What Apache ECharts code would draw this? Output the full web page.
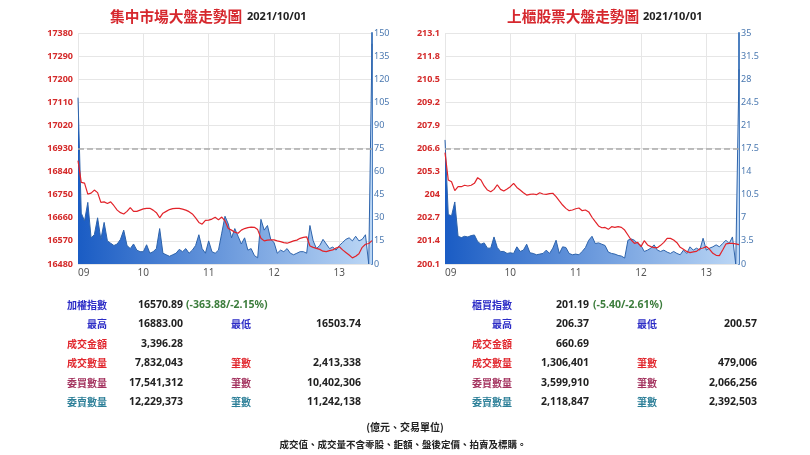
<!DOCTYPE html>
<html>
<head>
<meta charset="utf-8">
<title>大盤走勢圖</title>
<script src="https://cdn.jsdelivr.net/npm/echarts@6.0.0/dist/echarts.min.js"></script>
<style>
  html, body { margin: 0; padding: 0; background: #fff; }
  #chart { width: 810px; height: 455px; }
</style>
</head>
<body>
<div id="chart"></div>
<script>
// one point every 3 minutes, 09:00 .. 13:30
const hourLabels = ['09', '10', '11', '12', '13'];

const twseTicks = ['16480', '16570', '16660', '16750', '16840', '16930', '17020', '17110', '17200', '17290', '17380'];
const otcTicks = ['200.1', '201.4', '202.7', '204', '205.3', '206.6', '207.9', '209.2', '210.5', '211.8', '213.1'];

const twsePrice = [
  16883, 16798, 16795, 16752, 16756, 16768, 16758, 16720, 16722, 16716,
  16722, 16707, 16690, 16680, 16675, 16685, 16700, 16685, 16685, 16690,
  16695, 16697, 16697, 16690, 16680, 16660, 16678, 16685, 16692, 16696,
  16697, 16697, 16694, 16690, 16684, 16675, 16660, 16642, 16635, 16650,
  16651, 16655, 16662, 16652, 16663, 16648, 16618, 16612, 16604, 16600,
  16612, 16618, 16622, 16624, 16623, 16614, 16580, 16570, 16573, 16574,
  16574, 16570, 16567, 16563, 16561, 16565, 16570, 16573, 16580, 16584,
  16586, 16550, 16545, 16541, 16537, 16530, 16528, 16532, 16535, 16542,
  16547, 16535, 16525, 16515, 16504, 16510, 16520, 16545, 16557, 16560,
  16571
];
const twseVol = [
  108, 33, 28, 40, 17, 19, 30, 16, 27, 15,
  13.5, 12, 13, 16, 22, 12, 10, 13, 9, 8,
  8, 12.5, 7, 8, 10, 23, 7, 6, 5, 6,
  7, 9.5, 8, 10, 7, 9, 12, 19, 10, 7,
  15, 8, 7, 9, 20, 31, 26, 17, 23, 18,
  13, 17, 9, 10, 5.5, 4, 29, 22, 25, 16,
  14, 7, 9, 8, 10, 7, 6, 7, 8, 8,
  7, 25, 15, 10, 12, 16, 13, 10, 11, 9,
  12, 14, 16, 17, 15, 18, 15, 16, 19, 0,
  143
];
const otcPrice = [
  206.37, 204.83, 204.73, 204.23, 204.45, 204.45, 204.53, 204.49, 204.53, 204.64,
  204.96, 204.83, 204.49, 204.26, 204.17, 204.30, 204.56, 204.30, 204.21, 204.32,
  204.45, 204.64, 204.41, 204.26, 204.11, 203.98, 204.02, 204.04, 204.00, 204.11,
  204.04, 204.02, 204.06, 204.08, 203.89, 203.65, 203.42, 203.23, 203.10, 203.14,
  203.21, 203.25, 203.10, 203.14, 203.03, 202.73, 202.48, 202.24, 202.14, 202.16,
  202.05, 202.20, 202.16, 202.20, 202.16, 202.01, 201.73, 201.45, 201.26, 201.32,
  201.08, 201.41, 201.17, 201.08, 201.02, 201.02, 201.15, 201.32, 201.54, 201.54,
  201.45, 201.30, 201.04, 200.93, 200.81, 200.74, 200.78, 200.81, 200.96, 201.00,
  201.08, 200.93, 200.70, 200.59, 200.57, 200.89, 201.23, 201.26, 201.26, 201.23,
  201.19
];
const otcVol = [
  18.8, 7.5, 7.3, 9.4, 4.2, 4.0, 4.2, 4.1, 4.3, 4.4,
  3.4, 3.0, 3.2, 2.4, 2.4, 4.1, 2.5, 1.9, 1.9, 1.6,
  1.7, 1.6, 2.6, 1.9, 2.1, 3.0, 1.7, 1.6, 1.4, 1.5,
  1.6, 2.1, 1.6, 2.4, 3.6, 1.6, 2.6, 2.5, 1.6, 1.4,
  1.5, 1.4, 1.9, 2.5, 3.6, 4.2, 3.1, 3.2, 3.0, 2.8,
  1.8, 1.6, 1.5, 1.3, 1.2, 0.9, 3.6, 3.8, 3.6, 3.1,
  2.8, 1.9, 2.1, 2.4, 2.9, 2.1, 1.9, 2.1, 1.8, 1.6,
  1.9, 1.6, 1.4, 2.1, 1.6, 2.6, 2.1, 2.4, 2.1, 3.9,
  2.1, 2.4, 2.6, 2.9, 2.6, 3.1, 3.6, 3.1, 4.1, 0,
  29.5
];

const twseRef = 16930;
const otcRef = 206.6;

// tables
const rowColors = ['#2b2bc6', '#2b2bc6', '#e1262d', '#e1262d', '#a3335f', '#2c7f98'];
const twseLabels = ['加權指數', '最高', '成交金額', '成交數量', '委買數量', '委賣數量'];
const twseValues = ['16570.89', '16883.00', '3,396.28', '7,832,043', '17,541,312', '12,229,373'];
const twseLabels2 = ['', '最低', '', '筆數', '筆數', '筆數'];
const twseValues2 = ['', '16503.74', '', '2,413,338', '10,402,306', '11,242,138'];
const twseChange = '(-363.88/-2.15%)';
const otcLabels = ['櫃買指數', '最高', '成交金額', '成交數量', '委買數量', '委賣數量'];
const otcValues = ['201.19', '206.37', '660.69', '1,306,401', '3,599,910', '2,118,847'];
const otcLabels2 = ['', '最低', '', '筆數', '筆數', '筆數'];
const otcValues2 = ['', '200.57', '', '479,006', '2,066,256', '2,392,503'];
const otcChange = '(-5.40/-2.61%)';

const FONT = '"Noto Sans", "Noto Sans CJK TC", sans-serif';
const CJK = '"Noto Sans CJK TC", sans-serif';

const times = [];
for (let i = 0; i < twsePrice.length; i++) {
  const m = i * 3;
  const hh = 9 + Math.floor(m / 60), mm = m % 60;
  times.push((hh < 10 ? '0' : '') + hh + ':' + (mm < 10 ? '0' : '') + mm);
}
const onHour = (idx) => idx % 20 === 0;

const xAxes = [], yAxes = [], seriesList = [];

function addPanel(g, ticks, pMin, pMax, vMax, vStep, price, vol, ref) {
  xAxes.push({
    gridIndex: g, type: 'category', data: times, boundaryGap: false,
    axisLine: { show: false }, axisTick: { show: false },
    axisLabel: {
      interval: onHour, color: '#555', fontSize: 10, margin: 4, fontFamily: FONT,
      alignMinLabel: 'left',
      formatter: (v) => v.slice(0, 2)
    },
    splitLine: { show: true, interval: onHour, lineStyle: { color: '#e6e6e6' } }
  });
  yAxes.push({
    gridIndex: g, type: 'value', min: 0, max: 10, interval: 1, position: 'left',
    axisLine: { show: false }, axisTick: { show: false },
    axisLabel: { formatter: (v) => ticks[v], color: '#d42a2a', fontSize: 9, fontWeight: 'bold', margin: 5, fontFamily: FONT },
    splitLine: { lineStyle: { color: '#e6e6e6' } }
  });
  yAxes.push({ gridIndex: g, type: 'value', min: pMin, max: pMax, show: false });
  yAxes.push({
    gridIndex: g, type: 'value', position: 'right', min: 0, max: vMax, interval: vStep,
    axisLine: { show: true, lineStyle: { color: '#4d80c0', width: 2 } },
    axisTick: { show: false },
    axisLabel: { color: '#4a78b0', fontSize: 9, margin: 2, fontFamily: FONT },
    splitLine: { show: false }
  });
  seriesList.push({
    type: 'line', xAxisIndex: g, yAxisIndex: g * 3 + 2, data: vol,
    symbol: 'none', lineStyle: { color: '#2d63ab', width: 1 },
    areaStyle: {
      opacity: 1,
      color: new echarts.graphic.LinearGradient(0, 0, 1, 0, [
        { offset: 0, color: '#1a5cc4' }, { offset: 1, color: '#bcd7f5' }
      ])
    },
    z: 2
  });
  seriesList.push({
    type: 'line', xAxisIndex: g, yAxisIndex: g * 3 + 1, data: price,
    symbol: 'none', lineStyle: { color: '#e2232a', width: 1.2 }, z: 3,
    markLine: {
      silent: true, symbol: 'none', label: { show: false },
      lineStyle: { type: 'dashed', color: '#aaaaaa', width: 1.5 },
      data: [{ yAxis: ref }]
    }
  });
}

addPanel(0, twseTicks, 16480, 17380, 150, 15, twsePrice, twseVol, twseRef);
addPanel(1, otcTicks, 200.1, 213.1, 35, 3.5, otcPrice, otcVol, otcRef);

const graphics = [];
function text(x, y, s, fill, font, align) {
  graphics.push({
    type: 'text', x: x, y: y, silent: true,
    style: { text: s, fill: fill, font: font, align: align || 'left', verticalAlign: 'middle' }
  });
}

text(110, 16, '集中市場大盤走勢圖', '#d6282e', 'bold 14.7px ' + CJK);
text(247, 17, '2021/10/01', '#222', 'bold 11px ' + FONT);
text(507, 16, '上櫃股票大盤走勢圖', '#d6282e', 'bold 14.7px ' + CJK);
text(643, 17, '2021/10/01', '#222', 'bold 11px ' + FONT);

function table(cols, labels, values, labels2, values2, change) {
  for (let r = 0; r < labels.length; r++) {
    const y = 305 + r * 19.5;
    text(cols[0], y, labels[r], rowColors[r], 'bold 10px ' + CJK, 'right');
    text(cols[1], y, values[r], '#222', 'bold 10.5px ' + FONT, 'right');
    if (labels2[r]) text(cols[3], y, labels2[r], rowColors[r], 'bold 10px ' + CJK);
    if (values2[r]) text(cols[4], y, values2[r], '#222', 'bold 10.5px ' + FONT, 'right');
  }
  text(cols[2], 305, change, '#3c7d3c', 'bold 10.5px ' + FONT);
}
table([107, 183, 186, 231, 361], twseLabels, twseValues, twseLabels2, twseValues2, twseChange);
table([512, 589, 593, 637, 757], otcLabels, otcValues, otcLabels2, otcValues2, otcChange);

text(405, 427, '(億元、交易單位)', '#222', 'bold 10px ' + CJK, 'center');
text(403, 444, '成交值、成交量不含零股、鉅額、盤後定價、拍賣及標購。', '#222', 'bold 9.5px ' + CJK, 'center');

const chart = echarts.init(document.getElementById('chart'));
chart.setOption({
  backgroundColor: '#fff',
  animation: false,
  grid: [
    { left: 78, right: 438, top: 33, height: 231 },
    { left: 445, right: 71, top: 33, height: 231 }
  ],
  xAxis: xAxes,
  yAxis: yAxes,
  series: seriesList,
  graphic: graphics
});
</script>
</body>
</html>
